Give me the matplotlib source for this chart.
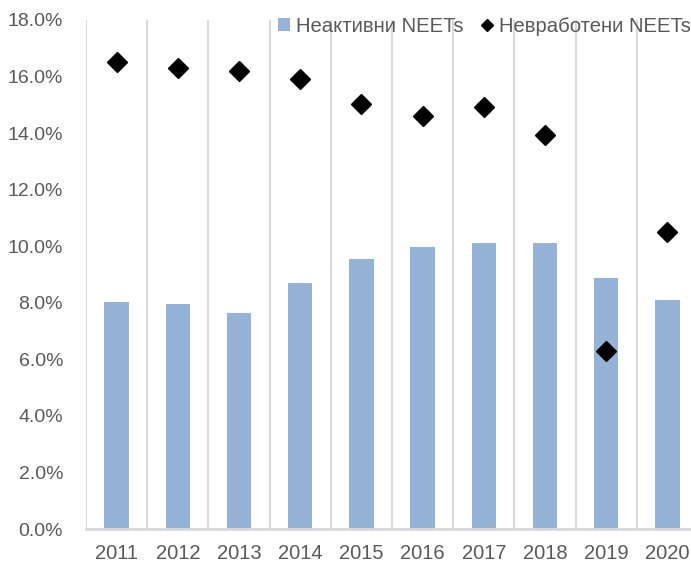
import matplotlib
matplotlib.use("Agg")
import matplotlib.pyplot as plt
from matplotlib.ticker import FuncFormatter, MultipleLocator
from matplotlib.lines import Line2D
from matplotlib.patches import Patch
import numpy as np

years = ["2011", "2012", "2013", "2014", "2015", "2016", "2017", "2018", "2019", "2020"]
inactive = [8.02, 7.95, 7.65, 8.70, 9.56, 9.99, 10.10, 10.10, 8.87, 8.10]
unemployed = [16.53, 16.32, 16.20, 15.93, 15.04, 14.62, 14.94, 13.95, 6.28, 10.50]
label_inactive = "Неактивни NEETs"
label_unemployed = "Невработени NEETs"

bar_color = "#95b3d7"
grid_color = "#d9d9d9"
text_color = "#595959"
font = "Liberation Sans"

fig = plt.figure(figsize=(6.91, 5.65), dpi=100)
ax = fig.add_axes([86/691, 36/565, (698-86)/691, (529-20)/565])

x = np.arange(len(years))
ax.bar(x, inactive, width=0.4, color=bar_color, zorder=2)
ax.plot(x, unemployed, linestyle="none", marker="D", markersize=10.2, color="black", zorder=3)

ax.set_xlim(-0.5, len(years) - 0.5)
ax.set_ylim(0, 18)
ax.yaxis.set_major_locator(MultipleLocator(2))
ax.yaxis.set_major_formatter(FuncFormatter(lambda v, p: f"{v:.1f}%"))

for b in np.arange(-0.5, len(years), 1.0):
    ax.axvline(b, color=grid_color, linewidth=1.5, zorder=1)

for s in ["top", "right", "left"]:
    ax.spines[s].set_visible(False)
ax.spines["bottom"].set_color(grid_color)
ax.spines["bottom"].set_linewidth(2)
ax.spines["bottom"].set_zorder(4)

ax.set_xticks(x)
ax.set_xticklabels(years)
ax.tick_params(axis="both", length=0, colors=text_color)
for lab in ax.get_yticklabels():
    lab.set_fontfamily(font)
    lab.set_fontsize(14)
ax.tick_params(axis="y", pad=16.5)
for lab in ax.get_xticklabels():
    lab.set_fontfamily(font)
    lab.set_fontsize(14.5)
ax.tick_params(axis="x", pad=11)

handles = [
    Patch(facecolor=bar_color, edgecolor="none", label=label_inactive),
    Line2D([], [], linestyle="none", marker="D", markersize=6.6, color="black",
           label=label_unemployed),
]
leg = fig.legend(handles=handles, loc="center right",
                 bbox_to_anchor=(1.0, 1 - 26/565), ncol=2, frameon=False,
                 prop={"family": font, "size": 14.6},
                 handlelength=0.6, handleheight=0.6, handletextpad=0.3,
                 columnspacing=0.85, borderaxespad=0, borderpad=0)
for t in leg.get_texts():
    t.set_color(text_color)

fig.savefig("out.png", dpi=100)
